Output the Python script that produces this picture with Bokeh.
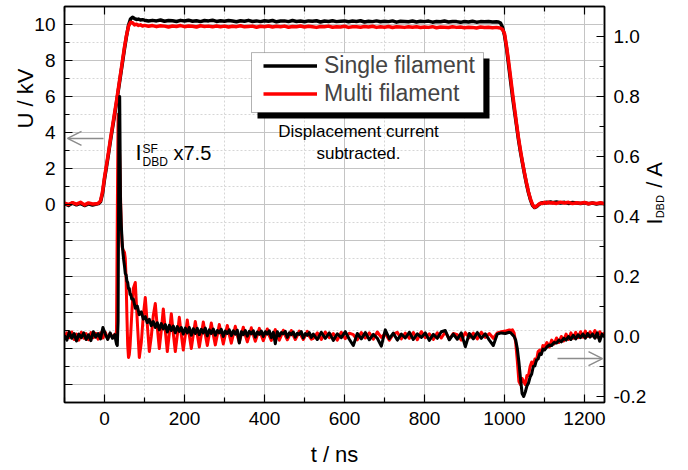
import numpy as np
from bokeh.plotting import figure
from bokeh.models import (Range1d, LinearAxis, FixedTicker, PrintfTickFormatter,
                          CustomLabelingPolicy, Label, Arrow, OpenHead,
                          BoxAnnotation, Legend, LegendItem)
from bokeh.embed import file_html
from bokeh.resources import INLINE

FONT = "Liberation Sans"

# ---- sample times (ns) ----
t_u = np.concatenate([np.arange(-100, -29, 10), np.arange(-20, 96, 5),
                      np.arange(100, 971, 10), np.arange(980, 1116, 5),
                      np.arange(1120, 1251, 10)])
t_i = np.concatenate([np.arange(-100, 21, 6), np.arange(26, 71, 2),
                      np.arange(72, 518, 5), np.arange(522, 1013, 10),
                      np.arange(1016, 1101, 4), np.arange(1106, 1251, 6)])

# ---- applied voltage U (kV), single filament ----
u_sf = [
    0.05, -0.05, 0.08, -0.02, 0.06, -0.06, 0.04, -0.03,
    0.02, 0.05, 0.15, 0.6, 1.4, 2.1, 2.8, 3.55, 4.25, 4.95, 5.65, 6.4,
    7.15, 7.9, 8.65, 9.35, 9.95, 10.3, 10.4, 10.33, 10.28, 10.3, 10.25, 10.27,
    10.24, 10.19, 10.23, 10.20, 10.25, 10.18, 10.22, 10.21, 10.17, 10.23,
    10.19, 10.24, 10.18, 10.21, 10.16, 10.22, 10.20, 10.24, 10.17, 10.21,
    10.18, 10.22, 10.19, 10.15, 10.21, 10.18, 10.23, 10.17, 10.20, 10.16,
    10.21, 10.18, 10.22, 10.15, 10.19, 10.20, 10.16, 10.22, 10.17, 10.19,
    10.15, 10.20, 10.18, 10.21, 10.14, 10.19, 10.17, 10.21, 10.16, 10.18,
    10.20, 10.15, 10.19, 10.17, 10.21, 10.14, 10.18, 10.16, 10.20, 10.15,
    10.18, 10.16, 10.20, 10.13, 10.18, 10.17, 10.15, 10.19, 10.14, 10.18,
    10.16, 10.19, 10.13, 10.17, 10.15, 10.19, 10.14, 10.17, 10.16, 10.12,
    10.17, 10.14, 10.18, 10.13, 10.16, 10.15, 10.17, 10.14,
    10.15, 10.14, 10.08, 9.85, 9.4, 8.7, 7.8, 6.9, 6.0, 5.2,
    4.4, 3.6, 2.9, 2.3, 1.7, 1.15, 0.65, 0.25, -0.05, -0.17,
    -0.12, -0.02, 0.05, 0.1, 0.08, 0.13, 0.1, 0.14,
    0.1, 0.14, 0.08, 0.12, 0.06, 0.11, 0.08, 0.05, 0.1, 0.04, 0.08, 0.03, 0.07, 0.04,
]

# ---- applied voltage U (kV), multi filament ----
u_mf = [
    0.08, 0.0, 0.1, 0.02, 0.12, -0.02, 0.09, 0.03,
    0.04, 0.08, 0.2, 0.7, 1.5, 2.2, 2.9, 3.65, 4.35, 5.05, 5.75, 6.5,
    7.25, 8.0, 8.75, 9.4, 9.9, 10.12, 10.1, 9.98, 10.02, 9.95, 9.98, 9.92,
    9.95, 9.90, 9.94, 9.88, 9.93, 9.91, 9.86, 9.92, 9.89, 9.94,
    9.88, 9.92, 9.90, 9.86, 9.93, 9.89, 9.91, 9.87, 9.92, 9.88,
    9.91, 9.86, 9.90, 9.88, 9.93, 9.87, 9.89, 9.91, 9.85, 9.90,
    9.88, 9.92, 9.86, 9.90, 9.87, 9.91, 9.85, 9.89, 9.88, 9.92,
    9.86, 9.90, 9.87, 9.84, 9.89, 9.88, 9.91, 9.85, 9.88, 9.86,
    9.90, 9.84, 9.88, 9.87, 9.85, 9.89, 9.86, 9.90, 9.84, 9.87,
    9.85, 9.89, 9.83, 9.87, 9.86, 9.84, 9.88, 9.85, 9.87, 9.83,
    9.86, 9.84, 9.88, 9.82, 9.86, 9.85, 9.83, 9.87, 9.84, 9.86,
    9.82, 9.85, 9.84, 9.81, 9.86, 9.83, 9.85, 9.82,
    9.84, 9.82, 9.8, 9.72, 9.5, 8.8, 8.0, 7.1, 6.2, 5.35,
    4.5, 3.7, 3.0, 2.35, 1.75, 1.2, 0.7, 0.3, 0.0, -0.15,
    -0.1, 0.0, 0.08, 0.05, 0.12, 0.07, 0.13, 0.08,
    0.1, 0.06, 0.13, 0.08, 0.12, 0.05, 0.1, 0.07, 0.11, 0.04, 0.09, 0.06, 0.1, 0.05,
]

# ---- DBD current (A), single filament scaled x7.5 ----
i_sf = [
    0.004, -0.012, 0.015, -0.006, 0.010, -0.015, 0.008, -0.004, 0.012, -0.010,
    0.006, -0.014, 0.016, -0.002, 0.010, -0.008, 0.030, 0.008, -0.010, 0.012, -0.006,
    0.006, -0.012, -0.025, -0.03, 0.05, 0.70, 0.80, 0.45, 0.37, 0.32,
    0.28, 0.255, 0.235, 0.21, 0.205, 0.185, 0.18, 0.16, 0.16, 0.14,
    0.14, 0.125, 0.125,
    0.125, 0.094, 0.101, 0.073, 0.082, 0.058, 0.066, 0.046, 0.057, 0.036,
    0.050, 0.030, 0.046, 0.022, 0.043, 0.025, 0.040, 0.015, 0.037, 0.020,
    0.035, 0.012, 0.033, 0.017, 0.030, 0.008, 0.028, 0.012, 0.030, 0.004,
    0.026, 0.010, 0.027, 0.006, 0.024, 0.012, 0.028, 0.002, 0.022, 0.010,
    0.025, 0.004, 0.020, 0.012, 0.024, 0.000, 0.018, 0.010, 0.022, 0.003,
    0.019, 0.008, 0.021, -0.022, 0.016, 0.006, 0.020, 0.001, 0.017, 0.009,
    0.019, -0.002, 0.015, 0.007, 0.018, 0.000, 0.016, 0.008, 0.019, -0.004,
    0.014, -0.024, 0.016, 0.002, 0.013, 0.009, 0.017, -0.003, 0.012, 0.006,
    0.015, -0.002, 0.011, 0.007, 0.016, -0.005, 0.010, 0.004, 0.013, -0.003,
    0.008, -0.010, 0.014, -0.006, 0.012, -0.013, 0.009, -0.004, 0.016, -0.009,
    -0.030, 0.010, -0.008, 0.013, -0.011, 0.007, -0.006, -0.032, 0.022, -0.007,
    0.011, -0.012, 0.008, -0.005, 0.014, -0.010, 0.009, -0.003, 0.012, -0.013,
    0.007, -0.006, 0.016, 0.020, -0.011, 0.008, -0.009, 0.012, -0.034, 0.010,
    -0.008, 0.013, -0.006, 0.009, -0.012, -0.030, 0.008, 0.012, 0.010, 0.014,
    0.012, 0.006, 0.0, -0.012, -0.04, -0.085, -0.14, -0.19, -0.2, -0.185,
    -0.165, -0.155, -0.135, -0.125, -0.1, -0.098, -0.078, -0.075, -0.058, -0.06,
    -0.042, -0.045,
    -0.035, -0.028, -0.03, -0.02, -0.022, -0.012, -0.018, -0.006, -0.012, 0.0,
    -0.01, 0.004, -0.008, 0.006, -0.004, 0.008, -0.006, 0.01, -0.002, 0.008,
    -0.006, 0.012, -0.016, 0.008, -0.002,
]

# ---- DBD current (A), multi filament ----
i_mf = [
    -0.008, 0.012, -0.004, 0.015, -0.01, 0.008, -0.012, 0.014, -0.006, 0.01,
    -0.011, 0.013, -0.004, 0.011, -0.009, 0.012, -0.005, 0.014, -0.008, 0.01, -0.004,
    0.008, -0.005, 0.02, 0.40, 0.74, 0.70, 0.60, 0.47, 0.36, 0.30,
    0.29, 0.285, 0.28, 0.26, 0.19, 0.07, -0.03, -0.07, -0.06, -0.03,
    0.02, 0.07, 0.12,
    0.16, 0.18, 0.05, -0.07, -0.02, 0.07, 0.13, 0.04, -0.05, 0.00,
    0.07, 0.11, 0.03, -0.04, 0.02, 0.092, 0.02, -0.05, 0.01, 0.076,
    0.01, -0.05, 0.005, 0.064, 0.006, -0.045, 0.004, 0.055, 0.005, -0.04,
    0.006, 0.05, 0.007, -0.035, 0.005, 0.048, 0.006, -0.03, 0.008, 0.045,
    0.006, -0.028, 0.005, 0.04, 0.007, -0.025, 0.006, 0.037, 0.005, -0.022,
    0.006, 0.034, 0.004, -0.02, 0.006, 0.031, 0.005, -0.018, 0.004, 0.029,
    0.006, -0.016, 0.005, 0.027, 0.004, -0.014, 0.005, 0.025, 0.003, -0.013,
    0.004, 0.023, 0.002, -0.012, 0.004, 0.021, 0.003, -0.011, 0.002, 0.02,
    0.004, -0.01, 0.003, 0.018, 0.002, -0.01, 0.003, 0.017, 0.001, -0.009,
    -0.006, 0.012, -0.010, 0.015, -0.004, 0.010, -0.012, 0.014, -0.007, 0.011,
    0.006, -0.011, 0.013, -0.005, 0.012, -0.009, 0.015, -0.003, 0.010, -0.012,
    0.008, 0.014, -0.008, 0.011, -0.006, 0.013, -0.011, 0.016, -0.004, 0.009,
    -0.010, 0.012, -0.005, 0.015, -0.009, 0.010, 0.006, -0.012, 0.013, -0.004,
    0.011, -0.008, 0.014, -0.003, 0.010, -0.006, 0.012, 0.016, 0.018, 0.022,
    0.02, 0.022, 0.012, -0.02, -0.08, -0.15, -0.16, -0.14, -0.15, -0.16,
    -0.13, -0.13, -0.1, -0.085, -0.1, -0.075, -0.08, -0.05, -0.045, -0.055,
    -0.03, -0.035,
    -0.02, -0.035, -0.012, -0.025, -0.005, -0.02, 0.0, -0.015, 0.008, -0.01,
    0.012, -0.006, 0.014, -0.004, 0.016, -0.002, 0.018, 0.0, 0.016, 0.002,
    0.02, -0.002, 0.016, 0.004, 0.012,
]

# ---- axes ----
x_ticks = [0, 200, 400, 600, 800, 1000, 1200]
x_minor = [-100, 100, 300, 500, 700, 900, 1100]
u_ticks = [-10, -8, -6, -4, -2, 0, 2, 4, 6, 8, 10]
u_minor = [-11, -9, -7, -5, -3, -1, 1, 3, 5, 7, 9, 11]
u_unlabeled = [-10, -8, -6, -4, -2]
i_ticks = [-0.2, 0.0, 0.2, 0.4, 0.6, 0.8, 1.0]
i_minor = [-0.1, 0.1, 0.3, 0.5, 0.7, 0.9]

BLACK = "#000000"
RED = "#ff0000"
GREY = "#8c8c8c"
NBSP = "\u00a0"

p = figure(width=688, height=470, x_range=Range1d(-100, 1250), y_range=Range1d(-11, 11),
           output_backend="svg", toolbar_location=None,
           min_border_left=64, min_border_right=84, min_border_top=6, min_border_bottom=68,
           background_fill_color="white", border_fill_color="white")
p.extra_y_ranges = {"cur": Range1d(-0.22, 1.1)}
p.outline_line_color = "black"
p.outline_line_width = 1.5


def style_axis(ax, standoff=9):
    ax.axis_line_color = "black"
    ax.axis_line_width = 1.5
    ax.major_tick_in = 8
    ax.major_tick_out = 0
    ax.minor_tick_in = 5
    ax.minor_tick_out = 0
    ax.major_tick_line_color = "black"
    ax.minor_tick_line_color = "black"
    ax.major_tick_line_width = 1.2
    ax.minor_tick_line_width = 1.2
    ax.major_label_text_font = FONT
    ax.major_label_text_color = "black"
    ax.major_label_text_font_size = "19px"
    ax.major_label_standoff = standoff


xt = FixedTicker(ticks=x_ticks, minor_ticks=x_minor)
ut = FixedTicker(ticks=u_ticks, minor_ticks=u_minor)
it = FixedTicker(ticks=i_ticks, minor_ticks=i_minor)

xax = p.xaxis[0]
xax.ticker = xt
style_axis(xax)
xax.axis_label = "t / ns"
xax.axis_label_text_font = FONT
xax.axis_label_text_font_size = "22px"
xax.axis_label_text_font_style = "normal"
xax.axis_label_text_color = "black"
xax.axis_label_standoff = 14

yax = p.yaxis[0]
yax.ticker = ut
style_axis(yax, standoff=9)
# only the upper half (0 ... 10 kV) of the voltage scale carries numbers
yax.major_label_overrides = {v: "" for v in u_unlabeled}
yax.major_label_policy = CustomLabelingPolicy(code="return [5, 6, 7, 8, 9, 10]")

top = LinearAxis(ticker=xt)
style_axis(top, standoff=0)
top.major_label_text_font_size = "1px"
top.major_label_policy = CustomLabelingPolicy(code="return []")
p.add_layout(top, "above")

rax = LinearAxis(y_range_name="cur", ticker=it, formatter=PrintfTickFormatter(format="%.1f"))
style_axis(rax)
p.add_layout(rax, "right")

for g, tk in ((p.xgrid[0], xt), (p.ygrid[0], ut)):
    g.ticker = tk
    g.grid_line_color = "#c4c4c4"
    g.grid_line_width = 1
    g.minor_grid_line_color = "#d6d6d6"
    g.minor_grid_line_dash = "2 2"
    g.minor_grid_line_width = 1

# ---- traces ----
r_usf = p.line(t_u, u_sf, line_color=BLACK, line_width=3.5, line_join="round")
r_umf = p.line(t_u, u_mf, line_color=RED, line_width=3.5, line_join="round")
p.line(t_i, i_mf, line_color=RED, line_width=3, line_join="round", y_range_name="cur")
p.line(t_i, i_sf, line_color=BLACK, line_width=3, line_join="round", y_range_name="cur")

# ---- legend with drop shadow ----
p.add_layout(BoxAnnotation(left=382.5, right=962.5, top=8.11, bottom=4.78,
                           fill_color="black", fill_alpha=1, line_alpha=0))
p.add_layout(BoxAnnotation(left=367.5, right=947.5, top=8.44, bottom=5.11,
                           fill_color="white", fill_alpha=1, line_color="black", line_width=1))
legend = Legend(items=[LegendItem(label="Single filament", renderers=[r_usf]),
                       LegendItem(label="Multi filament", renderers=[r_umf])],
                location=(199, 295), padding=0, spacing=1, margin=0,
                glyph_width=54, glyph_height=27, label_height=27, label_standoff=7,
                label_text_font=FONT, label_text_font_size="23px",
                border_line_alpha=0, background_fill_alpha=0)
p.add_layout(legend)


def txt(x, y, s, size, align="left", angle=0.0, place="center"):
    p.add_layout(Label(x=x, y=y, text=s, text_font=FONT, text_font_size=size,
                       text_color="black", text_align=align, text_baseline="middle",
                       angle=angle), place)


txt(635, 4.06, "Displacement current", "17px", align="center")
txt(635, 2.83, "subtracted.", "17px", align="center")

txt(77.5, 2.87, "I", "22px")
txt(95, 3.07, "SF", "12px")
txt(95, 2.34, "DBD", "12px")
txt(172.5, 2.86, "x7.5", "20px")

# vertical axis titles live in the side panels so they are not clipped to the frame;
# the current title leaves a gap for its subscript
txt(-196.5, 5.89, "U / kV", "22px", align="center", angle=np.pi / 2, place="left")
txt(1376, -1.11, "I" + NBSP * 5 + "/ A", "22px", angle=np.pi / 2, place="right")
txt(1388, -0.77, "DBD", "11px", angle=np.pi / 2, place="right")

# ---- axis pointers ----
p.add_layout(Arrow(end=OpenHead(size=14, line_color=GREY, line_width=1.5),
                   x_start=-2.5, y_start=3.67, x_end=-92.5, y_end=3.67,
                   line_color=GREY, line_width=1.5))
p.add_layout(Arrow(end=OpenHead(size=14, line_color=GREY, line_width=1.5),
                   x_start=1132.5, y_start=-8.56, x_end=1245, y_end=-8.56,
                   line_color=GREY, line_width=1.5))

open("out.html", "w").write(file_html(p, INLINE))
